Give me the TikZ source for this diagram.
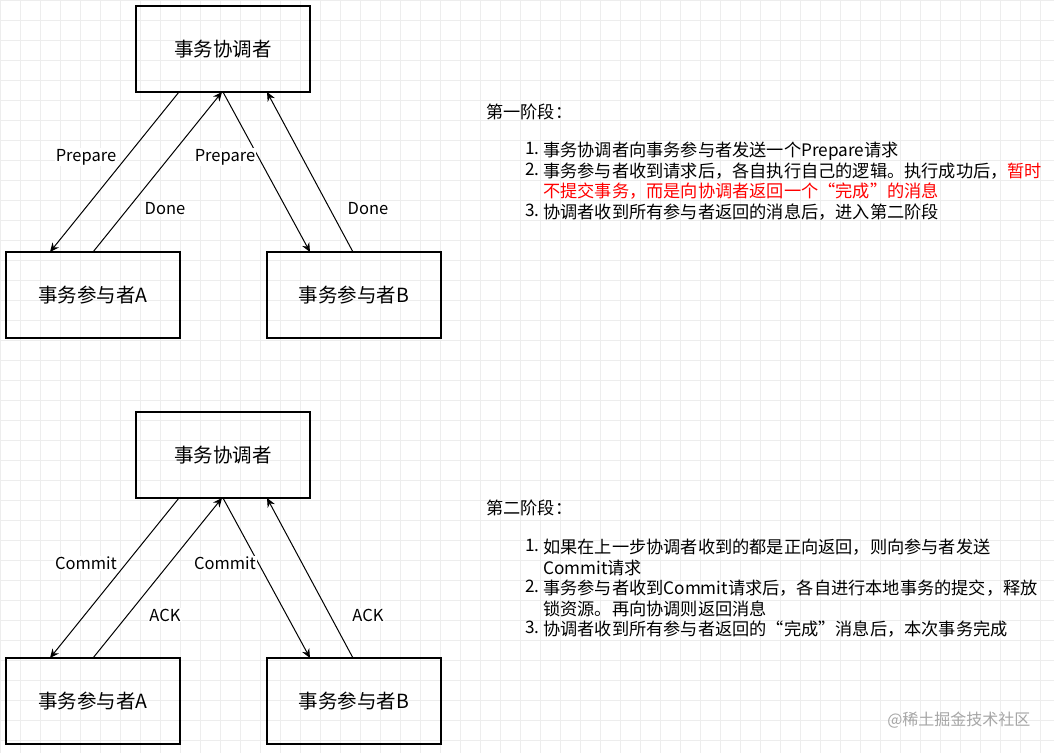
\documentclass[tikz,border=0pt]{standalone}
\usepackage{fontspec}
\setmainfont{Noto Sans CJK SC}
\usetikzlibrary{arrows.meta}
\begin{document}
\begin{tikzpicture}[x=1pt,y=-1pt,
  box/.style={draw,line width=1.2pt,minimum width=174pt,minimum height=86pt,font=\fontsize{19.5}{22}\selectfont,inner sep=0pt},
  arr/.style={line width=1pt,-{Stealth[length=9pt,width=8pt]}},
  lbl/.style={font=\fontsize{16.5}{18}\selectfont,fill=white,inner sep=1pt},
  txt/.style={font=\fontsize{17.2}{20.5}\selectfont,anchor=north west,inner sep=0pt,align=left}]
\useasboundingbox (0,0) rectangle (1054,753);
\fill[white] (0,0) rectangle (1054,753);
\foreach \i in {0,20,...,1054} \draw[black!7,line width=0.5pt] (\i,0) -- (\i,753);
\foreach \j in {0,20,...,753} \draw[black!7,line width=0.5pt] (0,\j) -- (1054,\j);
\foreach \dy/\s/\p/\q in {0/1/Prepare/Done,406/2/Commit/ACK}{
 \begin{scope}[yshift=-\dy pt]
  \node[box] (c\s) at (223,49) {事务协调者};
  \node[box] (a\s) at (93,295) {事务参与者A};
  \node[box] (b\s) at (354,295) {事务参与者B};
  \coordinate (ca\s) at (179,92); \coordinate (aa\s) at (50,252);
  \coordinate (ad\s) at (93,252); \coordinate (cd\s) at (222,92);
  \coordinate (cb\s) at (223,92); \coordinate (bb\s) at (310,252);
  \coordinate (bd\s) at (353,252); \coordinate (ce\s) at (267,92);
  \draw[arr] (ca\s) -- (aa\s);
  \draw[arr] (ad\s) -- (cd\s);
  \draw[arr] (cb\s) -- (bb\s);
  \draw[arr] (bd\s) -- (ce\s);
  \node[lbl] (p1\s) at (86,157) {\p};
  \node[lbl] (d1\s) at (165,209) {\q};
  \node[lbl] (p2\s) at (225,157) {\p};
  \node[lbl] (d2\s) at (368,209) {\q};
 \end{scope}}
\node[txt] (h1) at (486,104) {第一阶段：};
\node[txt] (l1) at (525,142) {1.};
\node[txt] (t1) at (543,142) {事务协调者向事务参与者发送一个Prepare请求\\事务参与者收到请求后，各自执行自己的逻辑。执行成功后，\textcolor{red}{暂时}\\\textcolor{red}{不提交事务，而是向协调者返回一个“完成”的消息}\\协调者收到所有参与者返回的消息后，进入第二阶段};
\node[txt] (l2) at (525,162.5) {2.};
\node[txt] (l3) at (525,203.5) {3.};
\node[txt] (h2) at (486,500) {第二阶段：};
\node[txt] (m1) at (525,539) {1.};
\node[txt] (s1) at (543,539) {如果在上一步协调者收到的都是正向返回，则向参与者发送\\Commit请求\\事务参与者收到Commit请求后，各自进行本地事务的提交，释放\\锁资源。再向协调则返回消息\\协调者收到所有参与者返回的“完成”消息后，本次事务完成};
\node[txt] (m2) at (525,580) {2.};
\node[txt] (m3) at (525,621) {3.};
\node[font=\fontsize{16}{18}\selectfont,text=black!35,anchor=east] (wm) at (1034,720) {@稀土掘金技术社区};
\end{tikzpicture}
\end{document}
